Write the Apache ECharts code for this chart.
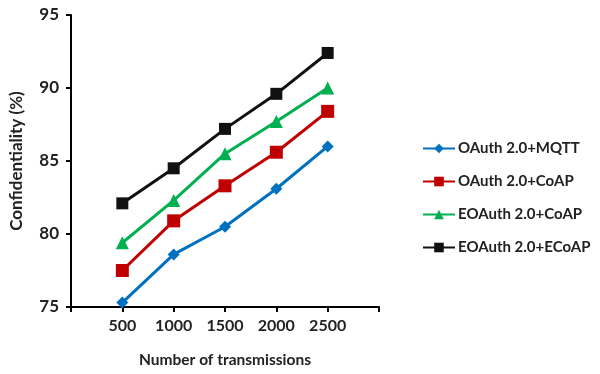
<!DOCTYPE html>
<html><head><meta charset="utf-8">
<script src="https://cdn.jsdelivr.net/npm/echarts@6/dist/echarts.min.js"></script>
<style>html,body{margin:0;padding:0;background:#fff}#c{width:600px;height:374px}</style>
</head><body><div id="c"></div>
<script>
var xValues = [500, 1000, 1500, 2000, 2500];
var seriesNames = ['OAuth 2.0+MQTT', 'OAuth 2.0+CoAP', 'EOAuth 2.0+CoAP', 'EOAuth 2.0+ECoAP'];
var mqtt = [75.3, 78.6, 80.5, 83.1, 86.0];
var coap = [77.5, 80.9, 83.3, 85.6, 88.4];
var eCoap = [79.4, 82.3, 85.5, 87.7, 90.0];
var eEcoap = [82.1, 84.5, 87.2, 89.6, 92.4];
var yTicks = [75, 80, 85, 90, 95];

var colors = ['#0070C0', '#C00000', '#00B050', '#111111'];
var symbols = ['diamond', 'rect', 'triangle', 'rect'];
var sizes = [12, 13, 13, 12];
var all = [mqtt, coap, eCoap, eEcoap];
var font = 'Lato, "Open Sans", sans-serif';

var chart = echarts.init(document.getElementById('c'));
chart.setOption({
  animation: false,
  grid: {left: 67, right: 221, top: 15, bottom: 67},
  legend: {
    orient: 'vertical', left: 417, top: 136, itemGap: 18,
    itemWidth: 32, itemHeight: 12,
    textStyle: {fontFamily: font, fontWeight: 'bold', fontSize: 15, color: '#222', padding: [0, 0, 0, -2]},
    data: seriesNames
  },
  xAxis: {
    type: 'value', min: 0, max: 3000, interval: 500,
    name: 'Number of transmissions', nameLocation: 'middle', nameGap: 45,
    nameTextStyle: {fontFamily: font, fontWeight: 'bold', fontSize: 15.5, color: '#222'},
    axisLine: {lineStyle: {color: '#000', width: 2}},
    axisTick: {show: true, length: 5, lineStyle: {color: '#000', width: 2}},
    splitLine: {show: false},
    axisLabel: {
      fontFamily: font, fontWeight: 'bold', fontSize: 16, color: '#222', margin: 11,
      formatter: function (v) { return xValues.indexOf(v) >= 0 ? String(v) : ''; }
    }
  },
  yAxis: {
    type: 'value', min: 75, max: 95, interval: 5,
    name: 'Confidentiality (%)', nameLocation: 'middle', nameGap: 46,
    nameTextStyle: {fontFamily: font, fontWeight: 'bold', fontSize: 17, color: '#222'},
    axisLine: {show: true, lineStyle: {color: '#000', width: 2}},
    axisTick: {show: true, length: 5, lineStyle: {color: '#000', width: 2}},
    splitLine: {show: false},
    axisLabel: {
      fontFamily: font, fontWeight: 'bold', fontSize: 17, color: '#222', margin: 12,
      formatter: function (v) { return yTicks.indexOf(v) >= 0 ? String(v) : ''; }
    }
  },
  series: all.map(function (arr, i) {
    return {
      name: seriesNames[i], type: 'line',
      data: arr.map(function (v, j) { return [xValues[j], v]; }),
      symbol: symbols[i], symbolSize: sizes[i], showSymbol: true,
      itemStyle: {color: colors[i]},
      lineStyle: {color: colors[i], width: 3}
    };
  })
});
</script></body></html>
